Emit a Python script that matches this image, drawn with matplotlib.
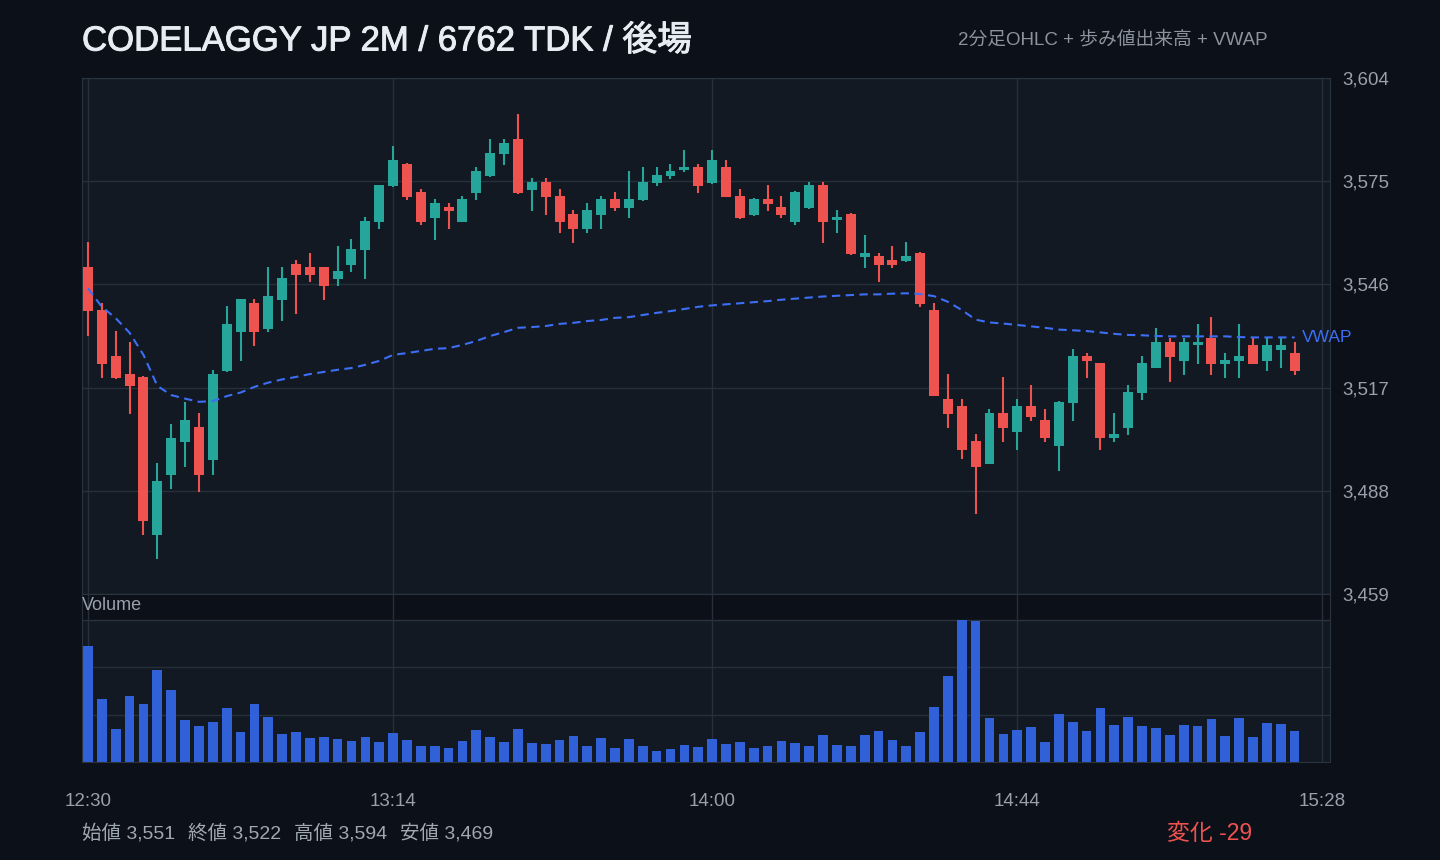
import numpy as np
import matplotlib
matplotlib.use("Agg")
import matplotlib.pyplot as plt
import matplotlib.patheffects as pe

plt.rcParams['font.family'] = ['Liberation Sans', 'Noto Sans CJK JP', 'DejaVu Sans']

# --- data (2-minute bars, 12:30 - 15:24) ---
opens = [3550.9, 3538.8, 3525.9, 3520.8, 3520.0, 3475.7, 3492.5, 3501.8, 3505.9, 3496.7,
         3521.8, 3532.7, 3540.8, 3533.6, 3541.7, 3551.7, 3550.9, 3550.9, 3547.6, 3551.5,
         3555.8, 3563.6, 3573.7, 3579.8, 3572.0, 3564.7, 3567.8, 3563.6, 3571.8, 3576.5,
         3582.6, 3586.9, 3572.5, 3574.8, 3570.8, 3565.8, 3561.6, 3565.5, 3570.0, 3567.5,
         3569.7, 3574.5, 3576.5, 3578.1, 3579.0, 3574.5, 3579.0, 3570.8, 3565.5, 3570.0,
         3567.8, 3563.5, 3567.5, 3573.9, 3564.1, 3565.8, 3553.7, 3554.0, 3552.9, 3552.6,
         3554.8, 3538.8, 3513.8, 3511.8, 3502.0, 3495.6, 3509.9, 3504.6, 3511.8, 3507.9,
         3500.7, 3512.8, 3525.9, 3523.9, 3502.7, 3505.7, 3515.6, 3522.6, 3529.8, 3524.6,
         3529.1, 3531.0, 3523.7, 3524.6, 3529.0, 3524.6, 3527.7, 3526.7]
highs = [3557.9, 3540.8, 3532.9, 3529.8, 3520.2, 3495.8, 3506.8, 3513.0, 3509.9, 3522.0,
         3539.9, 3542.0, 3541.9, 3550.9, 3550.9, 3552.9, 3554.8, 3551.0, 3556.8, 3558.8,
         3564.9, 3574.0, 3584.9, 3580.0, 3572.8, 3570.0, 3568.9, 3570.8, 3579.0, 3586.9,
         3586.9, 3593.9, 3575.9, 3575.9, 3572.8, 3566.9, 3568.9, 3570.8, 3572.0, 3577.9,
         3579.0, 3579.0, 3579.8, 3583.8, 3579.8, 3583.8, 3581.0, 3572.8, 3570.2, 3573.9,
         3570.8, 3572.2, 3574.8, 3574.8, 3566.9, 3566.0, 3559.9, 3554.8, 3556.8, 3557.9,
         3555.0, 3540.8, 3520.8, 3513.8, 3504.0, 3511.0, 3520.0, 3513.8, 3517.7, 3511.0,
         3513.2, 3527.9, 3526.7, 3524.0, 3509.9, 3517.7, 3525.9, 3533.8, 3531.0, 3531.0,
         3534.9, 3536.8, 3526.7, 3534.9, 3531.0, 3531.0, 3531.0, 3529.8]
lows = [3531.5, 3519.8, 3519.5, 3509.7, 3475.7, 3468.7, 3488.6, 3494.8, 3487.8, 3492.5,
        3521.5, 3524.6, 3528.8, 3532.7, 3535.8, 3537.7, 3546.8, 3541.7, 3545.6, 3549.6,
        3547.6, 3561.7, 3573.5, 3569.8, 3562.8, 3558.6, 3561.7, 3563.5, 3569.8, 3576.3,
        3579.6, 3571.5, 3566.6, 3565.5, 3560.4, 3557.6, 3560.4, 3561.6, 3566.6, 3564.7,
        3569.5, 3573.7, 3575.6, 3577.6, 3571.7, 3574.3, 3570.5, 3564.5, 3565.3, 3566.6,
        3564.7, 3562.7, 3567.3, 3557.6, 3560.4, 3554.3, 3550.6, 3546.7, 3550.6, 3552.4,
        3539.7, 3514.5, 3505.7, 3496.8, 3481.6, 3495.4, 3501.8, 3499.6, 3507.7, 3501.8,
        3493.7, 3507.7, 3519.8, 3499.6, 3501.8, 3503.8, 3513.6, 3522.4, 3518.7, 3520.6,
        3523.7, 3520.6, 3519.8, 3519.8, 3523.5, 3521.8, 3522.6, 3520.6]
closes = [3538.5, 3523.7, 3519.8, 3517.5, 3479.6, 3490.8, 3502.8, 3507.9, 3492.5, 3520.8,
          3534.9, 3541.9, 3532.7, 3542.7, 3547.8, 3548.6, 3548.7, 3545.6, 3549.8, 3556.0,
          3563.8, 3573.9, 3581.0, 3570.6, 3563.6, 3568.9, 3566.7, 3570.0, 3577.9, 3582.9,
          3585.7, 3571.7, 3574.8, 3570.6, 3563.5, 3561.6, 3566.9, 3570.0, 3567.5, 3570.0,
          3574.8, 3576.7, 3577.9, 3579.0, 3573.7, 3581.0, 3570.6, 3564.7, 3570.0, 3568.6,
          3565.5, 3572.0, 3573.9, 3563.5, 3564.9, 3554.5, 3554.8, 3551.5, 3551.5, 3554.0,
          3540.5, 3514.7, 3509.7, 3499.6, 3494.8, 3509.9, 3505.7, 3511.8, 3508.6, 3502.7,
          3513.0, 3525.9, 3524.6, 3502.7, 3504.1, 3515.8, 3523.9, 3529.8, 3525.7, 3529.8,
          3529.8, 3523.7, 3524.8, 3525.9, 3523.7, 3529.0, 3529.0, 3521.8]
# volume in 100 shares
volumes = [467, 251, 131, 263, 231, 371, 291, 167, 143, 159, 215, 119, 231, 179, 111, 119,
           95, 99, 91, 83, 99, 79, 115, 87, 63, 63, 55, 83, 127, 99, 79, 131, 75, 71, 87,
           103, 63, 95, 55, 91, 63, 43, 51, 67, 59, 91, 71, 79, 55, 63, 83, 75, 63, 107,
           67, 63, 107, 123, 87, 63, 119, 219, 347, 571, 567, 175, 111, 127, 139, 79, 191,
           159, 123, 215, 147, 179, 143, 135, 107, 147, 143, 171, 103, 175, 99, 155, 151, 123]
vwap = [3544.9, 3539.7, 3536.5, 3532.4, 3526.2, 3517.5, 3514.9, 3513.9, 3513.0, 3513.2,
        3514.6, 3515.6, 3517.2, 3518.4, 3519.3, 3520.0, 3520.8, 3521.4, 3522.0, 3522.5,
        3523.4, 3524.5, 3526.2, 3526.7, 3527.3, 3527.9, 3528.1, 3529.0, 3530.1, 3531.5,
        3532.6, 3533.8, 3534.0, 3534.3, 3534.9, 3535.2, 3535.7, 3536.0, 3536.6, 3536.8,
        3537.4, 3538.0, 3538.5, 3539.1, 3539.7, 3540.1, 3540.4, 3540.7, 3541.0, 3541.3,
        3541.7, 3542.0, 3542.3, 3542.6, 3542.8, 3543.0, 3543.2, 3543.2, 3543.4, 3543.5,
        3543.3, 3542.7, 3541.1, 3538.8, 3536.1, 3535.3, 3535.0, 3534.6, 3534.2, 3533.8,
        3533.3, 3533.1, 3532.9, 3532.5, 3532.1, 3531.8, 3531.7, 3531.5, 3531.4, 3531.4,
        3531.4, 3531.4, 3531.4, 3531.2, 3531.1, 3531.1, 3531.1, 3531.1]

time_ticks = [0, 22, 45, 67, 89]
time_labels = ["12:30", "13:14", "14:00", "14:44", "15:28"]
price_ticks = [3459, 3488, 3517, 3546, 3575, 3604]

title = "CODELAGGY JP 2M / 6762 TDK / 後場"
subtitle = "2分足OHLC + 歩み値出来高 + VWAP"

# --- colours ---
BG = '#0c1018'
PANEL = '#121922'
GRID = '#262f3a'
TXT = '#98a1ac'
UP = '#26a69a'
DOWN = '#ef5350'
VWAP_C = '#3d6ef5'
VOL_C = '#3061d9'

o = np.array(opens); h = np.array(highs); l = np.array(lows); c = np.array(closes)
x = np.arange(len(o))
cols = np.where(c >= o, UP, DOWN)

fig = plt.figure(figsize=(14.4, 8.6), dpi=100, facecolor=BG)
xlim = (-0.43, 89.55)

# --- price panel ---
ax = fig.add_axes([82/1440, 1 - 594/860, 1248/1440, 516/860], facecolor=PANEL)
ax.set_xlim(*xlim)
ax.set_ylim(3459, 3604)
ax.set_xticks(time_ticks)
ax.set_yticks(price_ticks)
ax.grid(True, color=GRID, lw=1.0)
ax.set_axisbelow(True)
ax.tick_params(axis='x', length=0, labelbottom=False)
ax.yaxis.tick_right()
ax.tick_params(axis='y', length=0, pad=9, labelsize=13.5, labelcolor=TXT)
ax.set_yticklabels([f"{v:,}" for v in price_ticks])
for s in ax.spines.values():
    s.set_color('#2a333e')

ax.vlines(x, l, h, colors=cols, lw=1.5, zorder=2)
body_lo = np.minimum(o, c)
body_h = np.maximum(np.abs(c - o), 0.4)
ax.bar(x, body_h, bottom=body_lo, width=0.72, color=cols, zorder=3)

ax.plot(x, vwap, color=VWAP_C, lw=1.5, dashes=(4, 2.6), zorder=4)
ax.text(x[-1] + 0.5, vwap[-1], "VWAP", color=VWAP_C, fontsize=12.5,
        va='center', ha='left', zorder=5)

# --- volume panel ---
vmax = 570
axv = fig.add_axes([82/1440, 1 - 762/860, 1248/1440, 168/860], facecolor=BG)
axv.set_xlim(*xlim)
axv.set_ylim(0, vmax * 168 / 142)
axv.axhspan(0, vmax, color=PANEL, zorder=0, lw=0)
axv.axhline(vmax, color='#2a333e', lw=1.0, zorder=1)
for yv in (vmax / 3, 2 * vmax / 3):
    axv.axhline(yv, color=GRID, lw=1.0, zorder=1)
for t in time_ticks:
    axv.axvline(t, color=GRID, lw=1.0, zorder=1)
axv.bar(x, np.minimum(volumes, vmax), width=0.7, color=VOL_C, zorder=2)
axv.set_yticks([])
axv.set_xticks(time_ticks)
axv.set_xticklabels(time_labels)
axv.tick_params(axis='x', length=0, pad=22, labelsize=13.5, labelcolor=TXT)
for s in axv.spines.values():
    s.set_color('#2a333e')
axv.text(0.0, 1 - 12/168, "Volume", transform=axv.transAxes, color=TXT,
         fontsize=13, va='center', ha='left')

# --- texts ---
ttl = fig.text(82/1440, 1 - 41/860, title, color='#e8edf3', fontsize=25,
               va='center', ha='left')
ttl.set_path_effects([pe.withStroke(linewidth=0.7, foreground='#e8edf3')])
fig.text(1268/1440, 1 - 40/860, subtitle, color='#8b949e', fontsize=13.5, va='center', ha='right')

stats = [("始値", opens[0]), ("終値", closes[-1]), ("高値", max(highs)), ("安値", min(lows))]
sx = [82, 188, 294, 400]
for (lab, val), px in zip(stats, sx):
    fig.text(px/1440, 1 - 833/860, f"{lab} {round(val):,}", color='#a0a8b2',
             fontsize=14, va='center', ha='left')
change = round(closes[-1]) - round(opens[0])
fig.text(1252/1440, 1 - 833/860, f"変化 {change:+d}", color=DOWN,
         fontsize=16.5, va='center', ha='right')

fig.savefig("out.png", dpi=100, facecolor=BG)
